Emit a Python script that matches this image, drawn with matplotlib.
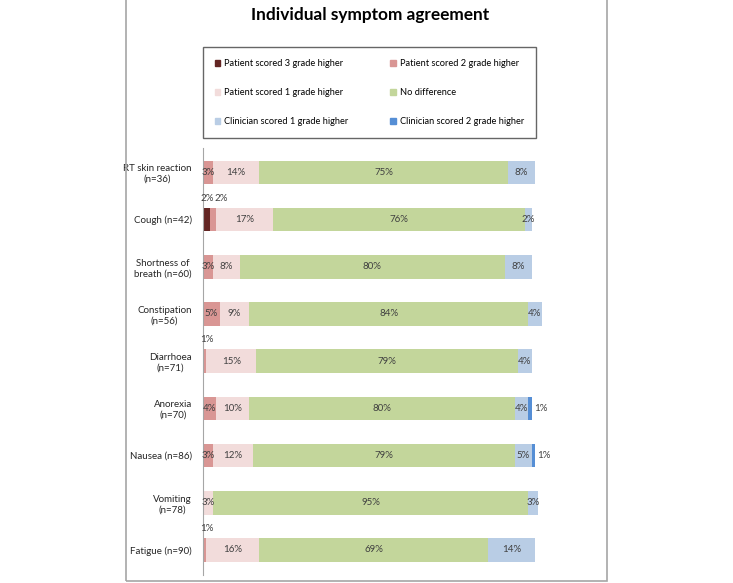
import matplotlib.pyplot as plt
import numpy as np
from matplotlib.patches import Rectangle, Patch

plt.rcParams["font.family"] = ["Lato", "DejaVu Sans"]

symptoms = [
    "RT skin reaction\n(n=36)",
    "Cough (n=42)",
    "Shortness of\nbreath (n=60)",
    "Constipation\n(n=56)",
    "Diarrhoea\n(n=71)",
    "Anorexia\n(n=70)",
    "Nausea (n=86)",
    "Vomiting\n(n=78)",
    "Fatigue (n=90)",
]

series_names = [
    "Patient scored 3 grade higher",
    "Patient scored 2 grade higher",
    "Patient scored 1 grade higher",
    "No difference",
    "Clinician scored 1 grade higher",
    "Clinician scored 2 grade higher",
]

patient_3 = [0, 2, 0, 0, 0, 0, 0, 0, 0]
patient_2 = [3, 2, 3, 5, 1, 4, 3, 0, 1]
patient_1 = [14, 17, 8, 9, 15, 10, 12, 3, 16]
no_diff = [75, 76, 80, 84, 79, 80, 79, 95, 69]
clinician_1 = [8, 2, 8, 4, 4, 4, 5, 3, 14]
clinician_2 = [0, 0, 0, 0, 0, 1, 1, 0, 0]

colors = ["#632523", "#D99694", "#F2DCDB", "#C3D69B", "#B9CDE5", "#558ED5"]

values = np.array([patient_3, patient_2, patient_1, no_diff, clinician_1, clinician_2])
y = np.arange(len(symptoms))

fig = plt.figure(figsize=(7.33, 5.83), dpi=100)

# Outer chart frame
fig.patches.append(Rectangle((0.172, 0.0034), 0.656, 1.1, transform=fig.transFigure,
                             fill=False, edgecolor="#A6A6A6", linewidth=1.2))

ax = fig.add_axes([0.277, 0.0137, 0.498, 0.732])

left = np.zeros(len(symptoms))
for i, (name, col) in enumerate(zip(series_names, colors)):
    vals = values[i]
    ax.barh(y, vals, left=left, height=0.5, color=col, label=name)
    for j, v in enumerate(vals):
        if v == 0:
            continue
        label = f"{v}%"
        if v >= 3 or i == 4:
            ax.text(left[j] + v / 2, y[j], label, ha="center", va="center",
                    fontsize=7, color="#404040")
        elif i == 5:
            ax.annotate(label, (left[j] + v, y[j]), xytext=(2, 0), textcoords="offset points",
                        ha="left", va="center", fontsize=7, color="#404040")
        else:
            # small patient segments: label above the bar, side by side
            k = int(np.sum((values[:i, j] > 0) & (values[:i, j] < 3)))
            ax.annotate(label, (0, y[j] - 0.25), xytext=(-2 + k * 10, 7), textcoords="offset points",
                        ha="left", va="center", fontsize=7, color="#404040")
    left += vals

ax.set_xlim(0, 110)
ax.set_ylim(8.53, -0.51)
ax.set_yticks(y)
ax.set_yticklabels(symptoms, fontsize=7, color="#262626", multialignment="center")
ax.tick_params(axis="y", length=0, pad=8)
ax.set_xticks([])
for s in ["top", "right", "bottom"]:
    ax.spines[s].set_visible(False)
ax.spines["left"].set_color("#A6A6A6")

fig.text(0.505, 0.975, "Individual symptom agreement", ha="center", va="center",
         fontsize=12.4, fontweight="bold")

handles = [Patch(color=c) for c in colors]
order = [0, 2, 4, 1, 3, 5]
leg = fig.legend([handles[k] for k in order], [series_names[k] for k in order],
                 ncol=2, loc="upper left", bbox_to_anchor=(0.277, 0.765, 0.4536, 0.154),
                 mode="expand", borderaxespad=0, fontsize=6.7, frameon=True, fancybox=False,
                 handlelength=0.6, handleheight=0.6, handletextpad=0.4,
                 labelspacing=2.15, borderpad=1.25, columnspacing=1.0)
leg.get_frame().set_edgecolor("#404040")
leg.get_frame().set_linewidth(1.0)

plt.savefig("out.png", dpi=100)
